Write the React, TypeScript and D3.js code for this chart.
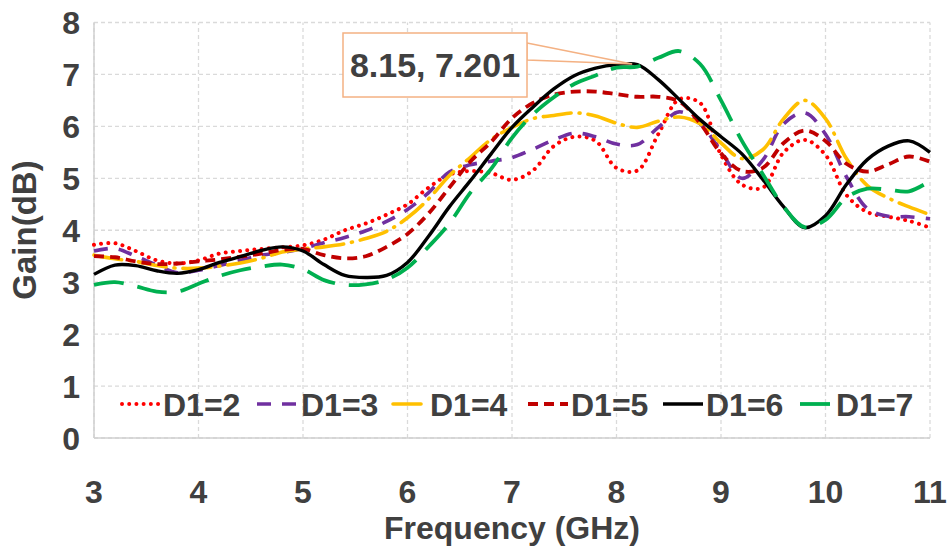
import React from "react";
import * as d3 from "d3";

// Frequency sweep (GHz)
const freqGHz = [
  3.0, 3.2, 3.4, 3.6, 3.8, 4.0, 4.2, 4.4, 4.6, 4.8,
  5.0, 5.2, 5.4, 5.6, 5.8, 6.0, 6.2, 6.4, 6.6, 6.8,
  7.0, 7.2, 7.4, 7.6, 7.8, 8.0, 8.2, 8.4, 8.6, 8.8,
  9.0, 9.2, 9.4, 9.6, 9.8, 10.0, 10.2, 10.4, 10.6, 10.8, 11.0,
];

// Gain (dB) for each D1 value
const gainD1_2 = [
  3.72, 3.75, 3.6, 3.42, 3.36, 3.42, 3.55, 3.6, 3.64, 3.67,
  3.71, 3.82, 4.0, 4.13, 4.3, 4.5, 4.82, 5.07, 5.14, 5.1,
  4.97, 5.15, 5.62, 5.8, 5.72, 5.2, 5.15, 5.85, 6.52, 6.45,
  5.45, 4.88, 4.82, 5.5, 5.74, 5.45, 4.68, 4.35, 4.26, 4.18, 4.05,
];
const gainD1_3 = [
  3.6, 3.65, 3.5, 3.33, 3.18, 3.23, 3.32, 3.42, 3.52, 3.57,
  3.65, 3.76, 3.86, 3.99, 4.17, 4.4, 4.72, 5.12, 5.26, 5.33,
  5.4, 5.56, 5.74, 5.87, 5.8, 5.66, 5.65, 5.98, 6.28, 6.05,
  5.52, 5.0, 5.35, 6.05, 6.26, 5.85, 5.03, 4.42, 4.27, 4.26, 4.22,
];
const gainD1_4 = [
  3.52, 3.45, 3.4, 3.32, 3.27, 3.27, 3.31, 3.37, 3.46, 3.58,
  3.64, 3.68, 3.74, 3.84, 3.98, 4.24, 4.6, 5.05, 5.4, 5.75,
  5.98, 6.15, 6.21, 6.26, 6.2, 6.06, 5.98, 6.1, 6.18, 6.05,
  5.68, 5.38, 5.55, 6.15, 6.5, 6.15, 5.38, 4.86, 4.62, 4.45, 4.3,
];
const gainD1_5 = [
  3.5, 3.48, 3.4, 3.35, 3.36, 3.4, 3.44, 3.49, 3.55, 3.62,
  3.64, 3.52, 3.46, 3.5, 3.68, 3.93, 4.32, 4.82, 5.32, 5.7,
  6.16, 6.45, 6.61, 6.67, 6.67, 6.62, 6.57, 6.57, 6.48, 6.06,
  5.48, 5.14, 5.2, 5.68, 5.92, 5.72, 5.28, 5.13, 5.27, 5.42, 5.32,
];
const gainD1_6 = [
  3.15, 3.33, 3.32, 3.22, 3.17, 3.24, 3.38, 3.49, 3.61, 3.68,
  3.6, 3.34, 3.13, 3.09, 3.13, 3.38, 3.88, 4.45, 4.95, 5.47,
  5.98, 6.37, 6.72, 6.98, 7.12, 7.19, 7.19, 6.9, 6.52, 6.13,
  5.8, 5.47, 4.98, 4.45, 4.05, 4.28, 4.88, 5.36, 5.62, 5.72, 5.5,
];
const gainD1_7 = [
  2.95, 3.0, 2.92, 2.82, 2.82, 2.97, 3.12, 3.23, 3.3, 3.34,
  3.25, 3.04, 2.95, 2.96, 3.05, 3.28, 3.68, 4.13, 4.72, 5.18,
  5.78, 6.23, 6.56, 6.82, 6.98, 7.13, 7.15, 7.32, 7.45, 7.2,
  6.5, 5.72, 5.08, 4.45, 4.06, 4.2, 4.63, 4.8, 4.78, 4.75, 4.95,
];

const seriesLabels = ["D1=2", "D1=3", "D1=4", "D1=5", "D1=6", "D1=7"];

const xTicks = [3, 4, 5, 6, 7, 8, 9, 10, 11];
const yTicks = [0, 1, 2, 3, 4, 5, 6, 7, 8];

// Marked peak
const peakFreq = 8.15;
const peakGain = 7.201;

const W = 951;
const H = 548;
const margin = { left: 94, top: 22.5, right: 21, bottom: 110 };
const FONT = "'Liberation Sans', Arial, sans-serif";
const TEXT = "#404040";

type Style = { color: string; dash: string | null; cap: "round" | "butt"; width: number; sample: number };

const styles: Style[] = [
  { color: "#FF0000", dash: "0.01 7.2", cap: "round", width: 4, sample: 38 },
  { color: "#7030A0", dash: "14 11", cap: "butt", width: 3.6, sample: 41 },
  { color: "#FFC000", dash: "28 8 1 8", cap: "round", width: 3.6, sample: 34 },
  { color: "#C00000", dash: "10 6", cap: "butt", width: 3.8, sample: 40 },
  { color: "#000000", dash: null, cap: "butt", width: 3.4, sample: 40 },
  { color: "#00B050", dash: "30 14", cap: "butt", width: 3.8, sample: 33 },
];

const seriesValues = [gainD1_2, gainD1_3, gainD1_4, gainD1_5, gainD1_6, gainD1_7];

// Legend anchor x (sample start) per entry
const legendStarts = [122, 257, 393, 528, 663, 800];

export default function App() {
  const x = d3.scaleLinear().domain([3, 11]).range([margin.left, W - margin.right]);
  const y = d3.scaleLinear().domain([0, 8]).range([H - margin.bottom, margin.top]);

  const line = d3
    .line<number>()
    .x((_, i) => x(freqGHz[i]))
    .y((d) => y(d))
    .curve(d3.curveCatmullRom.alpha(0.5));

  const px = x(peakFreq);
  const py = y(peakGain);
  const box = { x0: 343, y0: 33, x1: 527, y1: 97 };

  const legendY = 404;

  return (
    <svg
      width={W}
      height={H}
      style={{ position: "absolute", left: 0, top: 0, background: "#fff" }}
      fontFamily={FONT}
    >
      {/* grid */}
      {yTicks.map((t) => (
        <line
          key={"gy" + t}
          x1={x(3)}
          x2={x(11)}
          y1={y(t)}
          y2={y(t)}
          stroke="#dadada"
          strokeWidth={1.3}
          strokeDasharray="4 3"
        />
      ))}
      {xTicks.map((t) => (
        <line
          key={"gx" + t}
          x1={x(t)}
          x2={x(t)}
          y1={y(0)}
          y2={y(8)}
          stroke="#dadada"
          strokeWidth={1.3}
          strokeDasharray="4 3"
        />
      ))}
      {/* axes */}
      <line x1={x(3)} x2={x(3)} y1={y(0)} y2={y(8)} stroke="#d0d0d0" strokeWidth={1.5} />
      <line x1={x(3)} x2={x(11)} y1={y(0)} y2={y(0)} stroke="#d0d0d0" strokeWidth={1.5} />

      {/* tick labels */}
      {yTicks.map((t) => (
        <text
          key={"ty" + t}
          x={80}
          y={y(t)}
          dy="0.36em"
          textAnchor="end"
          fontSize={32}
          fontWeight="bold"
          fill={TEXT}
        >
          {t}
        </text>
      ))}
      {xTicks.map((t) => (
        <text
          key={"tx" + t}
          x={x(t)}
          y={491}
          dy="0.36em"
          textAnchor="middle"
          fontSize={32}
          fontWeight="bold"
          fill={TEXT}
        >
          {t}
        </text>
      ))}

      {/* axis titles */}
      <text x={512} y={527} dy="0.36em" textAnchor="middle" fontSize={32} fontWeight="bold" fill={TEXT}>
        Frequency (GHz)
      </text>
      <text
        transform={`translate(24,230) rotate(-90)`}
        dy="0.36em"
        textAnchor="middle"
        fontSize={33}
        fontWeight="bold"
        fill={TEXT}
      >
        Gain(dB)
      </text>

      {/* series */}
      {seriesValues.map((vals, i) => (
        <path
          key={"s" + i}
          d={line(vals) || ""}
          fill="none"
          stroke={styles[i].color}
          strokeWidth={styles[i].width}
          strokeDasharray={styles[i].dash || undefined}
          strokeLinecap={styles[i].cap}
          strokeLinejoin="round"
        />
      ))}

      {/* legend */}
      {seriesLabels.map((lab, i) => {
        const s = styles[i];
        const x0 = legendStarts[i];
        return (
          <g key={"l" + i}>
            <line
              x1={x0}
              x2={x0 + s.sample}
              y1={legendY}
              y2={legendY}
              stroke={s.color}
              strokeWidth={s.width}
              strokeDasharray={s.dash || undefined}
              strokeLinecap={s.cap}
            />
            <text
              x={x0 + s.sample + 3}
              y={legendY}
              dy="0.36em"
              fontSize={32}
              fontWeight="bold"
              fill={TEXT}
            >
              {lab}
            </text>
          </g>
        );
      })}

      {/* callout */}
      <polygon
        points={`${box.x1},${box.y0 + 10} ${px},${py} ${box.x1},${box.y0 + 27}`}
        fill="#fff"
        stroke="#F4B183"
        strokeWidth={1.3}
      />
      <rect
        x={box.x0}
        y={box.y0}
        width={box.x1 - box.x0}
        height={box.y1 - box.y0}
        fill="#fff"
        stroke="#F4B183"
        strokeWidth={1.5}
      />
      <text
        x={(box.x0 + box.x1) / 2}
        y={(box.y0 + box.y1) / 2}
        dy="0.36em"
        textAnchor="middle"
        fontSize={34}
        fontWeight="bold"
        fill={TEXT}
      >
        {`${peakFreq}, ${peakGain}`}
      </text>
    </svg>
  );
}
